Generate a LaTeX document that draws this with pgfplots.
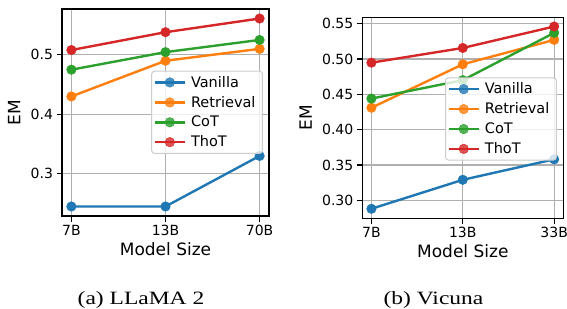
\documentclass[border=0pt]{standalone}
\usepackage{pgfplots}
\pgfplotsset{compat=1.18}
\usepackage{fontspec}
\setmainfont{DejaVu Sans}
\newfontfamily\capfont{Liberation Serif}
\definecolor{cA}{HTML}{1F77B4}
\definecolor{cB}{HTML}{FF7F0E}
\definecolor{cC}{HTML}{2CA02C}
\definecolor{cD}{HTML}{D62728}
\definecolor{gridc}{HTML}{B0B0B0}
\pgfplotsset{
  mystyle/.style={
    scale only axis,
    /pgf/number format/assume math mode=true,
    xmin=-0.1, xmax=2.1,
    xtick={0,1,2},
    tick pos=left,
    tick align=outside,
    major tick length=5.5bp,
    every tick/.style={black, line width=1.2bp},
    axis line style={line width=1.2bp},
    grid=major,
    grid style={gridc, line width=1.2bp},
    ticklabel style={font=\fontsize{14bp}{16bp}\selectfont},
    label style={font=\fontsize{17bp}{19bp}\selectfont},
    xlabel={Model Size},
    ylabel={EM},
    ylabel style={yshift=3.5bp},
    every axis plot/.append style={line width=2.4bp, mark=*, mark size=4.8bp},
    legend style={font=\fontsize{14.5bp}{17bp}\selectfont, draw=gray!40, rounded corners=3bp,
      fill=white, fill opacity=0.8, text opacity=1, line width=1bp,
      inner xsep=2bp, inner ysep=3bp, row sep=3.5bp, legend cell align=left,
      nodes={inner xsep=5bp}},
    legend cell align=left,
    legend image code/.code={\draw[mark repeat=2, mark phase=2] plot coordinates {(0bp,0bp)(15bp,0bp)(30bp,0bp)};},
  }
}
\begin{document}
\begin{tikzpicture}
\useasboundingbox (0,0) rectangle (567bp,-309bp);
\begin{axis}[mystyle,
  at={(62bp,-9bp)}, anchor=north west,
  width=207bp, height=207bp,
  ymin=0.229, ymax=0.577,
  ytick={0.3,0.4,0.5},
  yticklabel style={/pgf/number format/.cd, fixed, precision=1},
  xticklabels={7B,13B,70B},
  legend style={at={(0.971,0.702)}, anchor=north east},
]
\addplot[cA, mark options={fill=cA, draw=cA, line width=0.4bp}] coordinates {(0,0.245)(1,0.245)(2,0.330)};
\addplot[cB, mark options={fill=cB, draw=cB, line width=0.4bp}] coordinates {(0,0.430)(1,0.490)(2,0.510)};
\addplot[cC, mark options={fill=cC, draw=cC, line width=0.4bp}] coordinates {(0,0.475)(1,0.5045)(2,0.525)};
\addplot[cD, mark options={fill=cD, draw=cD, line width=0.4bp}] coordinates {(0,0.508)(1,0.538)(2,0.561)};
\legend{Vanilla,Retrieval,CoT,ThoT}
\end{axis}
\begin{axis}[mystyle,
  at={(362.3bp,-17.3bp)}, anchor=north west,
  width=201bp, height=201bp,
  ymin=0.2745, ymax=0.559,
  ytick={0.30,0.35,0.40,0.45,0.50,0.55},
  yticklabel style={/pgf/number format/.cd, fixed, fixed zerofill, precision=2},
  xticklabels={7B,13B,33B},
  legend style={at={(0.968,0.701)}, anchor=north east},
]
\addplot[cA, mark options={fill=cA, draw=cA, line width=0.4bp}] coordinates {(0,0.288)(1,0.329)(2,0.358)};
\addplot[cB, mark options={fill=cB, draw=cB, line width=0.4bp}] coordinates {(0,0.431)(1,0.4925)(2,0.527)};
\addplot[cC, mark options={fill=cC, draw=cC, line width=0.4bp}] coordinates {(0,0.444)(1,0.470)(2,0.537)};
\addplot[cD, mark options={fill=cD, draw=cD, line width=0.4bp}] coordinates {(0,0.4948)(1,0.5156)(2,0.546)};
\legend{Vanilla,Retrieval,CoT,ThoT}
\end{axis}
\node[anchor=base, inner sep=0pt] at (141bp,-304bp) {\scalebox{1}[0.8]{\capfont\fontsize{23.5bp}{25bp}\selectfont (a) LLaMA 2}};
\node[anchor=base, inner sep=0pt] at (433.5bp,-304bp) {\scalebox{1}[0.8]{\capfont\fontsize{23.5bp}{25bp}\selectfont (b) Vicuna}};
\end{tikzpicture}
\end{document}
